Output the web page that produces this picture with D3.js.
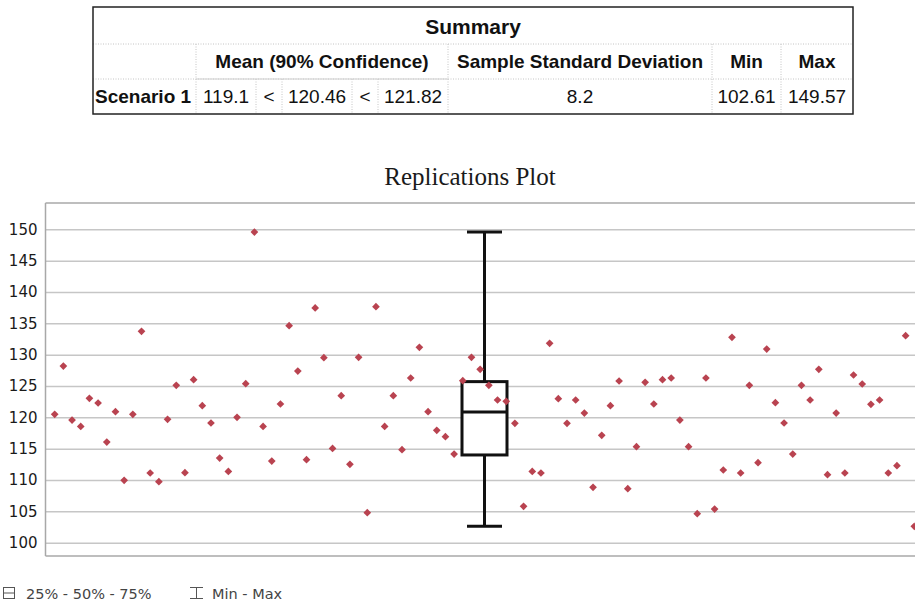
<!DOCTYPE html>
<html>
<head>
<meta charset="utf-8">
<script src="https://cdn.jsdelivr.net/npm/d3@7"></script>
<style>
  html, body { margin: 0; padding: 0; background: #fff; overflow: hidden; }
  svg { display: block; }
</style>
</head>
<body>
<svg id="chart" width="915" height="608"></svg>
<script>
// ---------- DATA ----------
const tableTitle = "Summary";
const tableHeaders = ["Mean (90% Confidence)", "Sample Standard Deviation", "Min", "Max"];
const tableRow = ["Scenario 1", "119.1", "<", "120.46", "<", "121.82", "8.2", "102.61", "149.57"];

const chartTitle = "Replications Plot";
const yTicks = [100, 105, 110, 115, 120, 125, 130, 135, 140, 145, 150];

// replication index 1..100
const replications = d3.range(1, 101);
const values = [
  120.48, 128.19, 119.57, 118.56, 123.03, 122.29, 116.06, 120.90, 109.95, 120.48,
  133.72, 111.12, 109.73, 119.68, 125.11, 111.17, 126.01, 121.86, 119.10, 113.51,
  111.38, 120.00, 125.37, 149.57, 118.56, 113.03, 122.13, 134.63, 127.39, 113.24,
  137.45, 129.52, 115.05, 123.46, 112.50, 129.57, 104.79, 137.66, 118.56, 123.46,
  114.84, 126.28, 131.17, 120.90, 117.93, 116.91, 114.15, 125.85, 129.57, 127.66,
  125.11, 122.77, 122.55, 119.04, 105.80, 111.38, 111.12, 131.81, 122.98, 119.04,
  122.77, 120.69, 108.83, 117.13, 121.86, 125.80, 108.62, 115.32, 125.59, 122.13,
  126.01, 126.28, 119.57, 115.32, 104.63, 126.28, 105.37, 111.60, 132.77, 111.12,
  125.11, 112.77, 130.90, 122.34, 119.10, 114.15, 125.11, 122.77, 127.66, 110.85,
  120.69, 111.12, 126.76, 125.32, 122.08, 122.77, 111.12, 112.29, 133.03, 102.61
];
// box plot: min, q1, median, q3, max
const boxStats = [102.61, 114.0, 120.85, 125.7, 149.57];
const legendLabels = ["25% - 50% - 75%", "Min - Max"];

// ---------- LAYOUT ----------
const svg = d3.select("#chart");
const plot = { left: 45.5, right: 923, top: 203, bottom: 556 };

const x = d3.scaleLinear().domain([0, 101]).range([46, 923]);
const y = d3.scaleLinear().domain([97.88, 154.2]).range([plot.bottom, plot.top]);

// ---------- TABLE ----------
const tbl = svg.append("g").attr("class", "table");
const colX = [93, 196, 256, 282, 352, 378, 448, 712, 781, 853];
const rowY = [7, 44, 79, 114];
const dotted = { stroke: "#c4c4c4", dash: "1,1.5" };

[rowY[1], rowY[2]].forEach(yy => {
  tbl.append("line").attr("x1", colX[0]).attr("x2", colX[9]).attr("y1", yy).attr("y2", yy)
    .attr("stroke", dotted.stroke).attr("stroke-dasharray", dotted.dash);
});
[colX[1], colX[6], colX[7], colX[8]].forEach(xx => {
  tbl.append("line").attr("x1", xx).attr("x2", xx).attr("y1", rowY[1]).attr("y2", rowY[2])
    .attr("stroke", dotted.stroke).attr("stroke-dasharray", dotted.dash);
});
colX.slice(1, 9).forEach(xx => {
  tbl.append("line").attr("x1", xx).attr("x2", xx).attr("y1", rowY[2]).attr("y2", rowY[3])
    .attr("stroke", dotted.stroke).attr("stroke-dasharray", dotted.dash);
});
tbl.append("line").attr("x1", colX[1]).attr("x2", colX[6]).attr("y1", rowY[2]).attr("y2", rowY[2])
  .attr("stroke", "#cfcfcf").attr("stroke-width", 1);
tbl.append("rect").attr("x", colX[0]).attr("y", rowY[0])
  .attr("width", colX[9] - colX[0]).attr("height", rowY[3] - rowY[0])
  .attr("fill", "none").attr("stroke", "#222").attr("stroke-width", 1.5);

const tfont = "'Liberation Sans', Arial, Helvetica, sans-serif";
tbl.append("text").attr("x", (colX[0] + colX[9]) / 2).attr("y", 33.5)
  .attr("text-anchor", "middle").attr("font-family", tfont).attr("font-weight", "bold")
  .attr("font-size", 21).attr("fill", "#111").text(tableTitle);

const headerCenters = [(colX[1] + colX[6]) / 2, (colX[6] + colX[7]) / 2, (colX[7] + colX[8]) / 2, (colX[8] + colX[9]) / 2];
tableHeaders.forEach((h, i) => {
  tbl.append("text").attr("x", headerCenters[i]).attr("y", 68)
    .attr("text-anchor", "middle").attr("font-family", tfont).attr("font-weight", "bold")
    .attr("font-size", 19).attr("fill", "#111").text(h);
});
tableRow.forEach((t, i) => {
  const cx = (colX[i] + colX[i + 1]) / 2;
  tbl.append("text").attr("x", i === 0 ? colX[0] + 2 : cx).attr("y", 103)
    .attr("text-anchor", i === 0 ? "start" : "middle").attr("font-family", tfont)
    .attr("font-weight", i === 0 ? "bold" : "normal")
    .attr("font-size", 19).attr("fill", "#111").text(t);
});

// ---------- CHART ----------
svg.append("text").attr("x", 470).attr("y", 184.5).attr("text-anchor", "middle")
  .attr("font-family", "'Liberation Serif', 'Times New Roman', serif")
  .attr("font-size", 25).attr("fill", "#1a1a1a").text(chartTitle);

const grid = svg.append("g").attr("transform", `translate(${plot.left},0)`)
  .call(d3.axisRight(y).tickValues(yTicks).tickSize(plot.right - plot.left).tickFormat(""));
grid.select(".domain").remove();
grid.selectAll(".tick line").attr("stroke", "#c6c6c6").attr("stroke-width", 1.5);

const yAxis = svg.append("g").attr("transform", `translate(${plot.left},0)`)
  .call(d3.axisLeft(y).tickValues(yTicks).tickSize(0).tickPadding(8));
yAxis.select(".domain").remove();
yAxis.selectAll(".tick text").attr("font-family", "'DejaVu Sans', Verdana, sans-serif")
  .attr("font-size", 15).attr("fill", "#1a1a1a");

svg.append("line").attr("x1", plot.left).attr("x2", plot.left).attr("y1", plot.top).attr("y2", plot.bottom)
  .attr("stroke", "#a8a8a8").attr("stroke-width", 1.5);
svg.append("line").attr("x1", plot.left).attr("x2", plot.right).attr("y1", plot.top).attr("y2", plot.top)
  .attr("stroke", "#a8a8a8").attr("stroke-width", 1.5);
svg.append("line").attr("x1", plot.left).attr("x2", plot.right).attr("y1", plot.bottom).attr("y2", plot.bottom)
  .attr("stroke", "#a8a8a8").attr("stroke-width", 1.5);

// box plot
const bx = x(50.5), boxW = 45, capW = 35;
const bp = svg.append("g").attr("stroke", "#111").attr("stroke-width", 3).attr("fill", "none");
bp.append("line").attr("x1", bx).attr("x2", bx).attr("y1", y(boxStats[4])).attr("y2", y(boxStats[3]));
bp.append("line").attr("x1", bx).attr("x2", bx).attr("y1", y(boxStats[1])).attr("y2", y(boxStats[0]));
bp.append("line").attr("x1", bx - capW / 2).attr("x2", bx + capW / 2).attr("y1", y(boxStats[4])).attr("y2", y(boxStats[4]));
bp.append("line").attr("x1", bx - capW / 2).attr("x2", bx + capW / 2).attr("y1", y(boxStats[0])).attr("y2", y(boxStats[0]));
bp.append("rect").attr("x", bx - boxW / 2).attr("y", y(boxStats[3]))
  .attr("width", boxW).attr("height", y(boxStats[1]) - y(boxStats[3])).attr("fill", "#fff");
bp.append("line").attr("x1", bx - boxW / 2).attr("x2", bx + boxW / 2).attr("y1", y(boxStats[2])).attr("y2", y(boxStats[2]));

// points (diamonds)
const diamond = d3.symbol().type(d3.symbolDiamond2).size(38);
svg.append("g").selectAll("path").data(values).join("path")
  .attr("d", diamond)
  .attr("transform", (d, i) => `translate(${x(replications[i])},${y(d)})`)
  .attr("fill", "#b94350");

// legend
const lg = svg.append("g");
lg.append("rect").attr("x", 3.5).attr("y", 587.5).attr("width", 11).attr("height", 11)
  .attr("fill", "none").attr("stroke", "#555").attr("stroke-width", 1);
lg.append("line").attr("x1", 3.5).attr("x2", 14.5).attr("y1", 593).attr("y2", 593)
  .attr("stroke", "#555").attr("stroke-width", 1);
lg.append("text").attr("x", 26).attr("y", 598.5).attr("font-family", "'DejaVu Sans', Verdana, sans-serif")
  .attr("font-size", 14.5).attr("fill", "#444").text(legendLabels[0]);
lg.append("line").attr("x1", 190).attr("x2", 203).attr("y1", 587.5).attr("y2", 587.5).attr("stroke", "#555");
lg.append("line").attr("x1", 190).attr("x2", 203).attr("y1", 598.5).attr("y2", 598.5).attr("stroke", "#555");
lg.append("line").attr("x1", 196.5).attr("x2", 196.5).attr("y1", 587.5).attr("y2", 598.5).attr("stroke", "#555");
lg.append("text").attr("x", 212).attr("y", 598.5).attr("font-family", "'DejaVu Sans', Verdana, sans-serif")
  .attr("font-size", 14.5).attr("fill", "#444").text(legendLabels[1]);
</script>
</body>
</html>
